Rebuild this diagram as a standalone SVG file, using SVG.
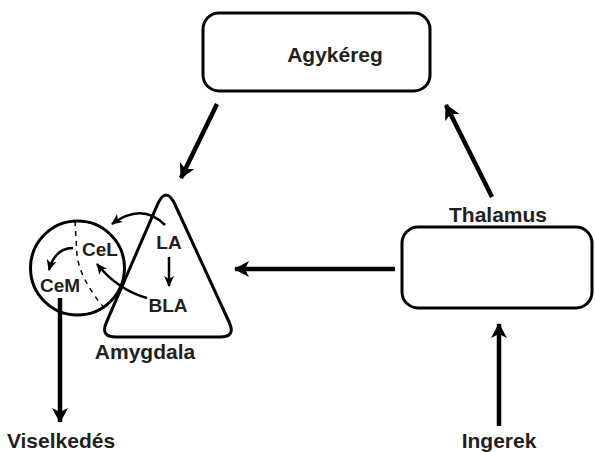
<svg xmlns="http://www.w3.org/2000/svg" width="595" height="452" viewBox="0 0 595 452">
<defs>
<style>
.box{fill:#fff;stroke:#000;stroke-width:3}
.shape{fill:none;stroke:#000;stroke-width:3}
.lbl{font-family:"Liberation Sans",Arial,sans-serif;font-weight:bold;fill:#231f20;text-anchor:middle}
.big{font-size:21px}
.sm{font-size:19px}
.main{fill:none;stroke:#000;stroke-width:4.5;marker-end:url(#ah)}
.thin{fill:none;stroke:#000;stroke-width:2.5;marker-end:url(#ahs)}
.dash{fill:none;stroke:#000;stroke-width:1.5;stroke-dasharray:5 5}
</style>
<marker id="ah" markerUnits="userSpaceOnUse" markerWidth="16" markerHeight="18" viewBox="0 0 16 18" refX="14" refY="9" orient="auto">
<path d="M0,1 L15,9 L0,17 L4,9 Z" fill="#000"/>
</marker>
<marker id="ahs" markerUnits="userSpaceOnUse" markerWidth="12" markerHeight="12" viewBox="0 0 12 12" refX="10" refY="6" orient="auto">
<path d="M0,1 L11,6 L0,11 L3,6 Z" fill="#000"/>
</marker>
</defs>
<g id="agykereg">
<rect class="box" x="203" y="13" width="227" height="78" rx="16"/>
<text class="lbl big" x="335" y="62">Agykéreg</text>
</g>
<g id="thalamus">
<rect class="box" x="402" y="227" width="190" height="81" rx="16"/>
<text class="lbl big" x="498" y="222">Thalamus</text>
</g>
<g id="amygdala">
<path class="shape" d="M157.2,205.2 Q166,185 175.2,205 L229.3,322.5 Q236,337 220,337 L116,337 Q100,337 106.4,322.3 Z"/>
<text class="lbl big" x="145" y="359">Amygdala</text>
</g>
<g id="central">
<circle class="shape" cx="77.5" cy="268" r="47"/>
<path class="dash" d="M75,221 L77,255 Q80,280 106,310"/>
</g>
<g id="LA"><text class="lbl sm" x="169" y="249">LA</text></g>
<g id="BLA"><text class="lbl sm" x="168" y="312">BLA</text></g>
<g id="CeL"><text class="lbl sm" x="100" y="256">CeL</text></g>
<g id="CeM"><text class="lbl sm" x="60" y="292">CeM</text></g>
<g id="viselkedes"><text class="lbl big" x="61" y="448">Viselkedés</text></g>
<g id="ingerek"><text class="lbl big" x="499" y="448">Ingerek</text></g>
<g id="connectors">
<path class="main" d="M217,104 L181,178"/>
<path class="main" d="M492,197 L446,105"/>
<path class="main" d="M395,269 L235,269"/>
<path class="main" d="M499,426 L499,324"/>
<path class="main" d="M60,298 L60,422"/>
<path class="thin" d="M169,257 L169,286"/>
<path class="thin" d="M165,225 Q142,202 112,224"/>
<path class="thin" d="M147,298 Q118,290 97,264"/>
<path class="thin" d="M73,248 Q55,248 49,270"/>
</g>
</svg>
